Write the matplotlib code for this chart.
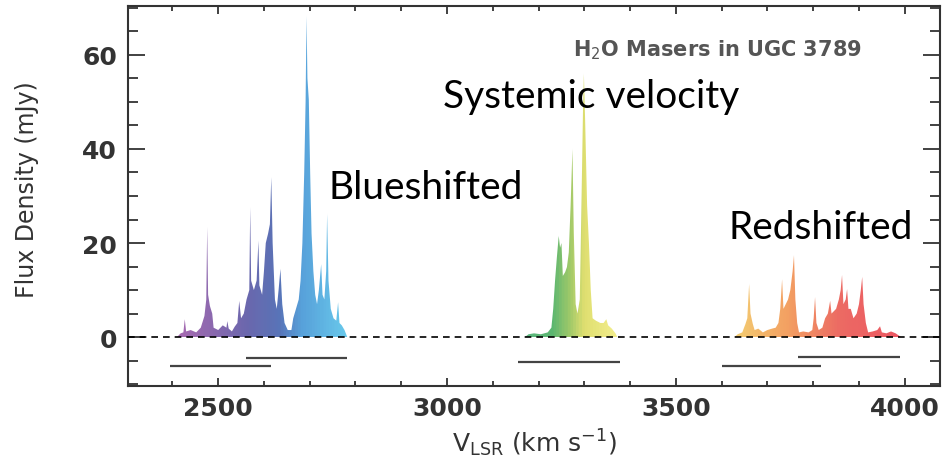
import numpy as np
from matplotlib import pyplot as plt
from matplotlib.colors import LinearSegmentedColormap, Normalize
from matplotlib.patches import Polygon
from matplotlib.ticker import MultipleLocator

### spectra: velocity (km/s) and flux density (mJy)
blue_v = [2410, 2418, 2424, 2427, 2430, 2440, 2452, 2462, 2470, 2474, 2476, 2478, 2482, 2487,
          2490, 2500, 2510, 2518, 2520, 2523, 2530, 2533, 2536, 2542, 2546, 2550, 2556, 2562,
          2568, 2570, 2572, 2578, 2584, 2588, 2590, 2596, 2600, 2604, 2609, 2613, 2616, 2619,
          2624, 2628, 2632, 2636, 2640, 2645, 2652, 2660, 2664, 2670, 2676, 2680, 2684, 2688,
          2691, 2693, 2695, 2698, 2701, 2704, 2708, 2712, 2716, 2720, 2725, 2728, 2732, 2736,
          2738, 2741, 2746, 2752, 2758, 2762, 2765, 2770, 2776, 2782]
blue_f = [0, 0.8, 1.0, 3.8, 1.2, 1.5, 1.0, 2.0, 4.5, 8, 23.4, 9, 6.6, 5,
          2, 1.5, 2.5, 2.0, 3.4, 1.8, 1.2, 1.7, 2.2, 3, 7.7, 4, 5, 8,
          10, 27.6, 12, 10, 12, 20.5, 11, 9, 14, 20, 22, 24, 34, 20,
          8, 6, 10, 14.5, 7, 3, 1.5, 1.5, 4, 6, 8, 12, 20, 35,
          50, 68.3, 55, 50.5, 35, 22, 14, 9, 7, 10, 15.5, 9, 8, 14,
          26.2, 12, 6, 4, 3.5, 7.4, 3, 2.5, 1.5, 0]

sys_v = [3170, 3178, 3190, 3205, 3220, 3228, 3232, 3236, 3240, 3244, 3247, 3250, 3253, 3258,
         3262, 3266, 3270, 3274, 3277, 3281, 3285, 3290, 3294, 3297, 3299, 3302, 3306, 3310,
         3314, 3318, 3325, 3335, 3342, 3348, 3352, 3360, 3368, 3372]
sys_f = [0, 0.6, 0.8, 0.6, 1, 2, 6, 12, 17, 21.5, 19, 20, 13, 13.8,
         14.9, 18, 28, 40, 22, 7, 5, 8, 30, 48, 56, 45, 28, 20,
         10, 4, 3.5, 3, 3, 3.8, 2.5, 1.8, 0.8, 0]

red_v = [3628, 3635, 3645, 3652, 3656, 3660, 3663, 3668, 3672, 3680, 3690, 3700, 3710, 3718,
         3724, 3728, 3732, 3735, 3740, 3745, 3750, 3755, 3758, 3761, 3765, 3769, 3778, 3790,
         3798, 3801, 3804, 3807, 3812, 3820, 3826, 3832, 3837, 3840, 3845, 3850, 3856, 3860,
         3863, 3866, 3871, 3874, 3877, 3882, 3888, 3895, 3900, 3904, 3907, 3910, 3915, 3920,
         3930, 3940, 3946, 3950, 3960, 3970, 3980, 3992]
red_f = [0, 0.6, 1, 2.8, 4, 11.3, 5, 2.8, 1.5, 1.8, 1.0, 1.5, 1.8, 2,
         3, 6, 12.3, 6, 7, 8, 10, 14, 17.4, 8, 3, 1, 1.2, 1,
         1.5, 4, 8.5, 3, 1.5, 2.0, 4, 5, 7.7, 5, 5.5, 6, 8, 10,
         13.2, 7, 8, 10.2, 6, 6, 4, 5, 7, 10, 12.8, 7, 3, 1,
         1.2, 1.5, 2.3, 1, 0.8, 1.2, 0.8, 0]

### velocity ranges drawn under the spectrum (start, end, level)
range_start = [2395, 2561, 3154, 3601, 3767]
range_end = [2616, 2782, 3377, 3817, 3990]
range_y = [-6.2, -4.5, -5.3, -6.2, -4.3]

### rainbow colour as a function of velocity
col_v = [2400, 2480, 2560, 2630, 2680, 2780, 3230, 3270, 3300, 3370, 3640, 3750, 3860, 3990]
col_c = ['#a058a8', '#8058a6', '#5a56a4', '#4664b0', '#4496d6', '#58c4ea', '#48ae60',
         '#98c458', '#dcdc60', '#f2ec80', '#f2c460', '#f29450', '#ea5a52', '#ea4450']

xmin, xmax = 2303, 4077
ymin, ymax = -10.4, 70.4

pos = [(v - col_v[0]) / (col_v[-1] - col_v[0]) for v in col_v]
cmap = LinearSegmentedColormap.from_list('vel', list(zip(pos, col_c)))
norm = Normalize(col_v[0], col_v[-1])

fig = plt.figure(figsize=(9.42, 4.6), dpi=100)
ax = fig.add_axes([128/942, 1 - 387/460, (940 - 128)/942, (387 - 7)/460])
ax.set_xlim(xmin, xmax)
ax.set_ylim(ymin, ymax)

grad = np.linspace(xmin, xmax, 1200)[None, :]
for vv, ff in [(blue_v, blue_f), (sys_v, sys_f), (red_v, red_f)]:
    poly = Polygon(np.column_stack([vv, ff]), closed=True, facecolor='none', edgecolor='none')
    ax.add_patch(poly)
    im = ax.imshow(grad, extent=[xmin, xmax, 0, ymax], cmap=cmap, norm=norm,
                   aspect='auto', alpha=0.9, zorder=2)
    im.set_clip_path(poly)

ax.axhline(0, color='k', lw=1.2, ls=(0, (4, 3)), zorder=3)
ax.hlines(range_y, range_start, range_end, color='#444444', lw=1.6, zorder=3)

ax.text(3275, 61.3, r'H$_2$O Masers in UGC 3789', fontsize=15, fontweight='bold',
        color='#555555', va='center', ha='left')
ax.text(2741, 31.9, 'Blueshifted', fontsize=28, family='Lato', va='center', ha='left')
ax.text(2992, 51.3, 'Systemic velocity', fontsize=28, family='Lato', va='center', ha='left')
ax.text(3614, 23.4, 'Redshifted', fontsize=28, family='Lato', va='center', ha='left')

ax.set_xticks([2500, 3000, 3500, 4000])
ax.set_yticks([0, 20, 40, 60])
ax.xaxis.set_minor_locator(MultipleLocator(100))
ax.yaxis.set_minor_locator(MultipleLocator(5))
ax.tick_params(which='both', direction='in', top=True, right=True, color='#333333',
               width=1.3, labelsize=18, labelcolor='#333333')
ax.tick_params(axis='x', which='major', length=6, pad=7)
ax.tick_params(axis='x', which='minor', length=3.5)
ax.tick_params(axis='y', which='major', length=12, pad=8)
ax.tick_params(axis='y', which='minor', length=7)
for lab in ax.get_xticklabels() + ax.get_yticklabels():
    lab.set_fontweight('bold')
for sp in ax.spines.values():
    sp.set_linewidth(1.5)
    sp.set_color('#333333')

ax.set_ylabel('Flux Density (mJy)', fontsize=17, color='#333333')
ax.yaxis.set_label_coords(-0.11, 0.52)
ax.set_xlabel(r'V$_{\rm LSR}$ (km s$^{-1}$)', fontsize=18, color='#333333', labelpad=5)

fig.savefig('out.png', dpi=100)
